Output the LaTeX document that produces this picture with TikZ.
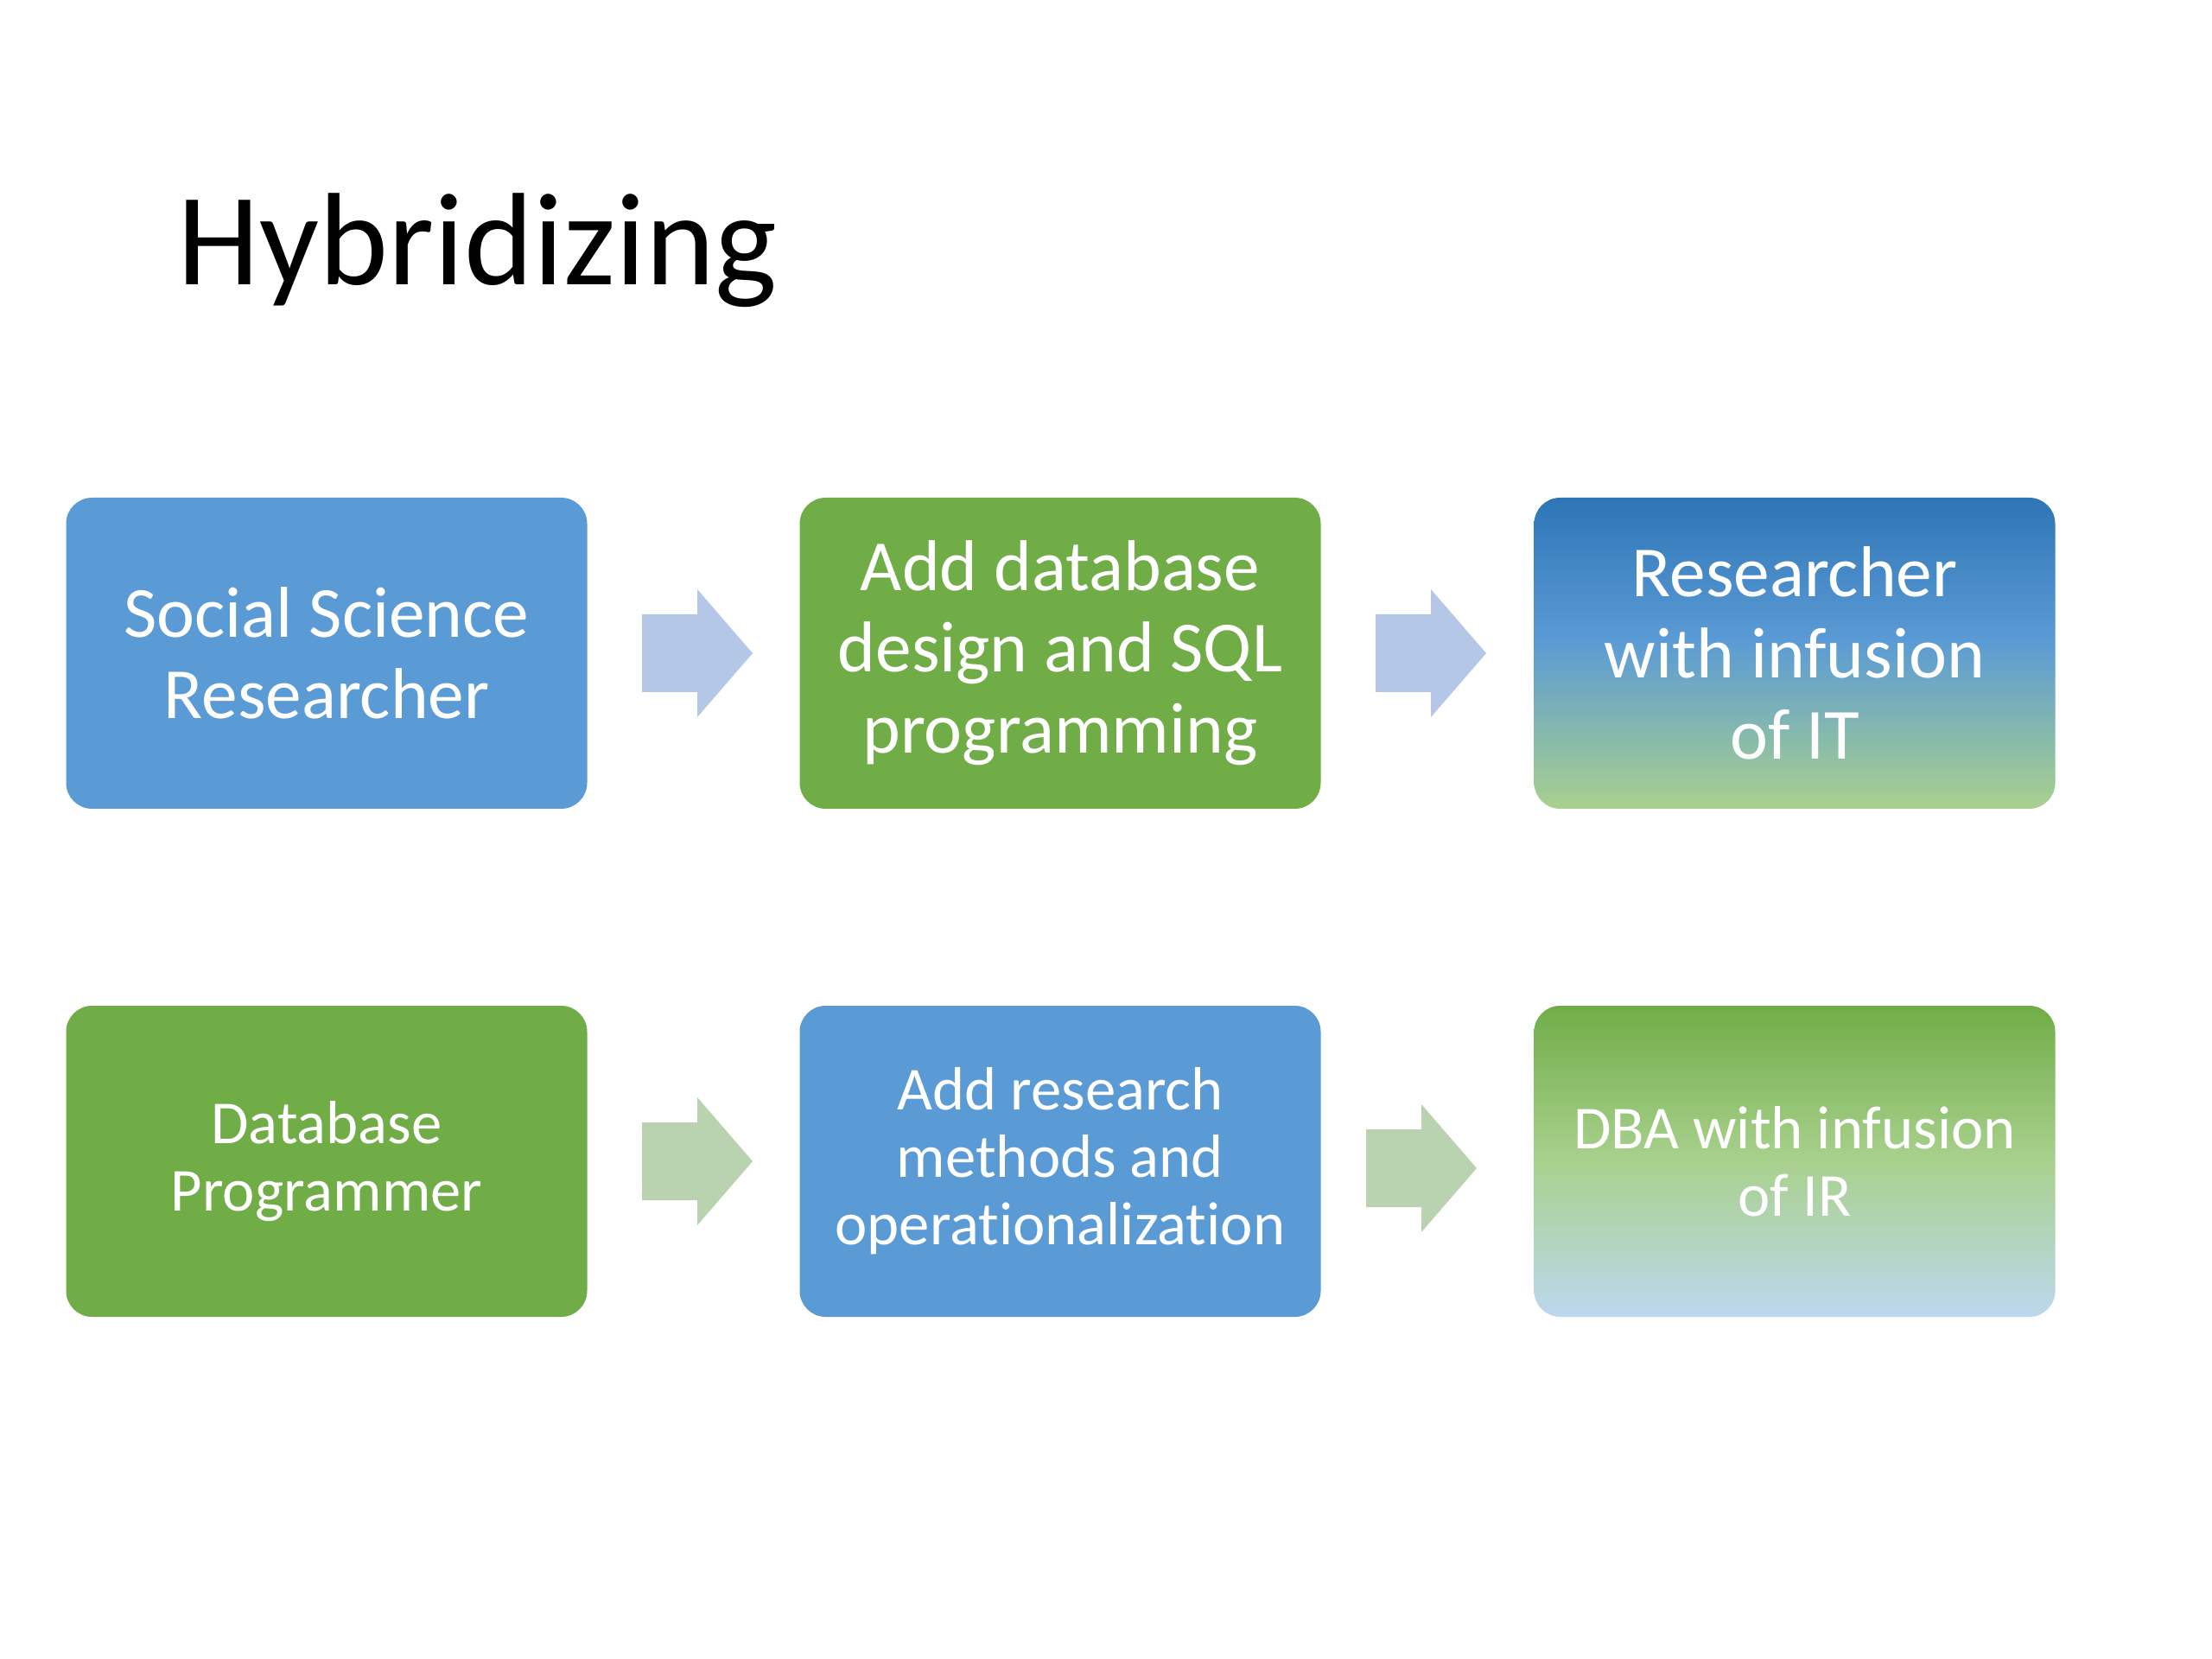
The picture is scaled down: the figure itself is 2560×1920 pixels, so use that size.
\documentclass[tikz,border=0pt]{standalone}
\usepackage{fontspec}
\setmainfont{Carlito}[Ligatures={NoCommon}]
\definecolor{boxblue}{HTML}{5B9BD5}
\definecolor{boxgreen}{HTML}{70AD47}
\definecolor{darkblue}{HTML}{2E75B6}
\definecolor{lightgreen}{HTML}{A9D18E}
\definecolor{paleblue}{HTML}{BDD7EE}
\definecolor{arrowblue}{HTML}{B4C7E7}
\definecolor{arrowgreen}{HTML}{B9D3B0}
\pgfdeclareverticalshading{itshade}{100bp}{color(0bp)=(lightgreen); color(25bp)=(lightgreen); color(52bp)=(boxblue); color(75bp)=(darkblue); color(100bp)=(darkblue)}
\pgfdeclareverticalshading{irshade}{100bp}{color(0bp)=(paleblue); color(25bp)=(paleblue); color(50bp)=(lightgreen); color(75bp)=(boxgreen); color(100bp)=(boxgreen)}
\begin{document}
\begin{tikzpicture}[x=0.3pt,y=-0.3pt,
  card/.style={rounded corners=9pt, minimum width=180.9pt, minimum height=108pt,
    inner sep=0pt, align=center, text=white},
  bigtext/.style={font=\fontsize{25}{28.2}\selectfont},
  smalltext/.style={font=\fontsize{21.2}{23.4}\selectfont},
  blockarrow/.pic={\path[pic actions] (-64,-45) -- (0,-45) -- (0,-74) -- (64,0) -- (0,74) -- (0,45) -- (-64,45) -- cycle;}
]
\useasboundingbox (0,0) rectangle (2560,1920);
\fill[white] (0,0) rectangle (2560,1920);

\node[anchor=base west, inner sep=0pt, font=\fontsize{45.7}{55}\selectfont] (title) at (205,330) {Hybridizing};

% row 1
\node[card, bigtext, fill=boxblue] (ssr) at (378,756) {Social Science\\Researcher};
\node[card, bigtext, fill=boxgreen] (adddb) at (1227,756) {Add database\\design and SQL\\programming};
\node[card, bigtext, shading=itshade] (rit) at (2077,756) {Researcher\\with infusion\\of IT};

% row 2
\node[card, smalltext, fill=boxgreen] (dbp) at (378,1344) {Database\\Programmer};
\node[card, smalltext, fill=boxblue] (addrm) at (1227,1344) {Add research\\methods and\\operationalization};
\node[card, smalltext, shading=irshade] (dba) at (2077,1344) {DBA with infusion\\of IR};

% block arrows
\pic[fill=arrowblue] (a1) at (807,756) {blockarrow};
\pic[fill=arrowblue] (a2) at (1656,756) {blockarrow};
\pic[fill=arrowgreen] (a3) at (807,1344) {blockarrow};
\pic[fill=arrowgreen] (a4) at (1645,1352) {blockarrow};
\end{tikzpicture}
\end{document}
